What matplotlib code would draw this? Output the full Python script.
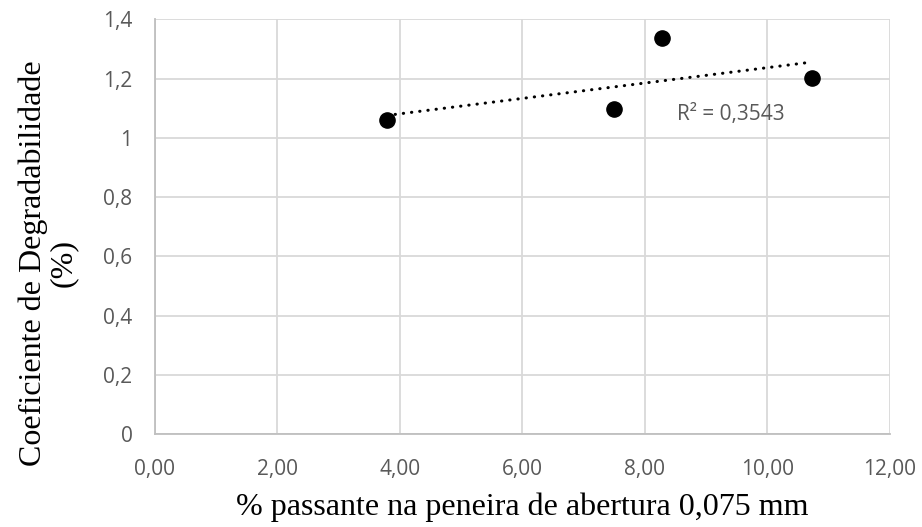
import matplotlib
matplotlib.use("Agg")
import matplotlib.pyplot as plt
import numpy as np

x_vals = [3.79, 7.49, 8.28, 10.73]
y_vals = [1.06, 1.096, 1.336, 1.203]
x_ticks = [0, 2, 4, 6, 8, 10, 12]
x_ticklabels = ["0,00", "2,00", "4,00", "6,00", "8,00", "10,00", "12,00"]
y_ticks = [0, 0.2, 0.4, 0.6, 0.8, 1.0, 1.2, 1.4]
y_ticklabels = ["0", "0,2", "0,4", "0,6", "0,8", "1", "1,2", "1,4"]
r2_label = "R² = 0,3543"

W, H = 922, 527
fig = plt.figure(figsize=(W / 100, H / 100), dpi=100)
left_px, right_px, bottom_px, top_px = 154.7, 890.0, 434.0, 19.3
ax = fig.add_axes([left_px / W, 1 - bottom_px / H,
                   (right_px - left_px) / W, (bottom_px - top_px) / H])

grid_c = "#d9d9d9"
tick_c = "#595959"

ax.set_xlim(0, 12)
ax.set_ylim(0, 1.4)
ax.set_xticks(x_ticks)
ax.set_xticklabels(x_ticklabels)
ax.set_yticks(y_ticks)
ax.set_yticklabels(y_ticklabels)
ax.grid(True, color=grid_c, linewidth=1.3)
ax.set_axisbelow(True)
for s in ["top", "right"]:
    ax.spines[s].set_visible(False)
for s in ["left", "bottom"]:
    ax.spines[s].set_color("#bfbfbf")
    ax.spines[s].set_linewidth(1.3)
ax.tick_params(length=0, labelcolor=tick_c, labelsize=15)
ax.tick_params(axis="x", pad=18)
ax.tick_params(axis="y", pad=16)
for lab in ax.get_xticklabels() + ax.get_yticklabels():
    lab.set_fontfamily("Open Sans")

# trendline
coef = np.polyfit(x_vals, y_vals, 1)
xt = np.array([min(x_vals), max(x_vals)])
ax.plot(xt, np.polyval(coef, xt), color="black", linewidth=2.2,
        linestyle=(0, (0.1, 2.6)), dash_capstyle="round", zorder=2)

ax.scatter(x_vals, y_vals, s=120, color="black", zorder=3)

ax.text(8.52, 1.08, r2_label, color=tick_c, fontsize=15,
        fontfamily="Open Sans", va="center", ha="left")

ax.set_xlabel("% passante na peneira de abertura 0,075 mm",
              fontfamily="Liberation Serif", fontsize=23)
ax.xaxis.set_label_coords(0.5, -(493 - bottom_px) / (bottom_px - top_px))
ax.set_ylabel("Coeficiente de Degradabilidade\n(%)",
              fontfamily="Liberation Serif", fontsize=23,
              linespacing=1.05)
ax.yaxis.set_label_coords((78 - left_px) / (right_px - left_px),
                          (bottom_px - 263) / (bottom_px - top_px))

fig.savefig("out.png", dpi=100)
